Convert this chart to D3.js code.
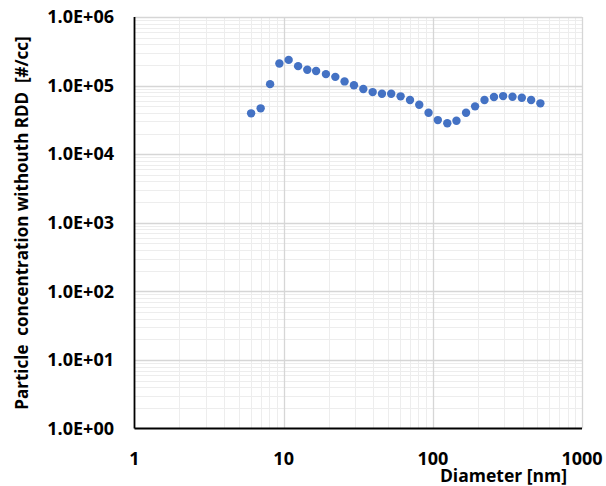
<!DOCTYPE html>
<html>
<head>
<meta charset="utf-8">
<script src="https://cdn.jsdelivr.net/npm/d3@7"></script>
<style>
  html, body { margin: 0; padding: 0; background: #fff; }
  svg text { font-family: "Open Sans", "Noto Sans", sans-serif; font-weight: bold; fill: #000; }
  .ytitle { white-space: pre; }
</style>
</head>
<body>
<svg id="chart" width="606" height="486"></svg>
<script>
// Particle size distribution: diameter (nm) vs number concentration (#/cc)
const diameters = [6.05, 7.01, 8.11, 9.36, 10.8, 12.5, 14.4, 16.5, 19.2, 22.2, 25.6, 29.6,
  34.2, 39.5, 45.6, 52.6, 60.8, 70.3, 81.1, 93.6, 108, 125, 144, 167, 192, 222,
  257, 296, 342, 395, 456, 526];
const concentrations = [39400, 46600, 105000, 210000, 237000, 192000, 170000, 163000, 147000,
  134000, 115000, 101000, 89000, 80400, 76000, 76000, 69700, 61500, 52500, 40200,
  31400, 28200, 30700, 40200, 49800, 61500, 68000, 70300, 68700, 66400, 61500, 55100];
const xTicks = [1, 10, 100, 1000];
const yTicks = [1, 10, 100, 1000, 10000, 100000, 1000000];
const xTickLabels = ["1", "10", "100", "1000"];
const yTickLabels = ["1.0E+00", "1.0E+01", "1.0E+02", "1.0E+03", "1.0E+04", "1.0E+05", "1.0E+06"];
const xTitle = "Diameter [nm]";
const yTitle = "Particle  concentration withouth RDD  [#/cc]";

const svg = d3.select("#chart");
const plotLeft = 134.5, plotRight = 582, plotTop = 17, plotBottom = 428.5;

const x = d3.scaleLog().domain([1, 1000]).range([plotLeft, plotRight]);
const y = d3.scaleLog().domain([1, 1e6]).range([plotBottom, plotTop]);

// minor grid lines (2..9 within each decade)
const minorX = [], minorY = [];
for (let d = 1; d < 1000; d *= 10) for (let k = 2; k <= 9; k++) minorX.push(d * k);
for (let d = 1; d < 1e6; d *= 10) for (let k = 2; k <= 9; k++) minorY.push(d * k);

const grid = svg.append("g");
grid.selectAll(".mx").data(minorX).join("line")
  .attr("x1", d => Math.round(x(d)) + 0.5).attr("x2", d => Math.round(x(d)) + 0.5)
  .attr("y1", plotTop).attr("y2", plotBottom)
  .attr("stroke", "#ededed").attr("stroke-width", 1);
grid.selectAll(".my").data(minorY).join("line")
  .attr("y1", d => Math.round(y(d)) + 0.5).attr("y2", d => Math.round(y(d)) + 0.5)
  .attr("x1", plotLeft).attr("x2", plotRight)
  .attr("stroke", "#ededed").attr("stroke-width", 1);
grid.selectAll(".Mx").data(xTicks.slice(1)).join("line")
  .attr("x1", d => Math.round(x(d)) + 0.5).attr("x2", d => Math.round(x(d)) + 0.5)
  .attr("y1", plotTop).attr("y2", plotBottom)
  .attr("stroke", "#d6d6d6").attr("stroke-width", 1.3);
grid.selectAll(".My").data(yTicks.slice(1)).join("line")
  .attr("y1", d => Math.round(y(d)) + 0.5).attr("y2", d => Math.round(y(d)) + 0.5)
  .attr("x1", plotLeft).attr("x2", plotRight)
  .attr("stroke", "#d6d6d6").attr("stroke-width", 1.3);

// axis lines
svg.append("line").attr("x1", plotLeft).attr("x2", plotLeft).attr("y1", plotTop).attr("y2", plotBottom)
  .attr("stroke", "#000").attr("stroke-width", 1.8);
svg.append("line").attr("x1", plotLeft).attr("x2", plotRight).attr("y1", plotBottom).attr("y2", plotBottom)
  .attr("stroke", "#000").attr("stroke-width", 1.8);

// tick labels
svg.append("g").selectAll("text").data(xTicks).join("text")
  .attr("x", d => x(d)).attr("y", 465)
  .attr("text-anchor", "middle").attr("font-size", 18)
  .text((d, i) => xTickLabels[i]);
svg.append("g").selectAll("text").data(yTicks).join("text")
  .attr("x", 114).attr("y", d => y(d) + 6.3)
  .attr("text-anchor", "end").attr("font-size", 18)
  .text((d, i) => yTickLabels[i]);

// titles
svg.append("text").attr("x", 567).attr("y", 482)
  .attr("text-anchor", "end").attr("font-size", 17.5).text(xTitle);
svg.append("text").attr("class", "ytitle").attr("transform", "translate(27.5,223) rotate(-90)")
  .attr("text-anchor", "middle").attr("font-size", 17).text(yTitle);

// data points
svg.append("g").selectAll("circle").data(diameters).join("circle")
  .attr("cx", d => x(d)).attr("cy", (d, i) => y(concentrations[i]))
  .attr("r", 4.2).attr("fill", "#4472C4");
</script>
</body>
</html>
